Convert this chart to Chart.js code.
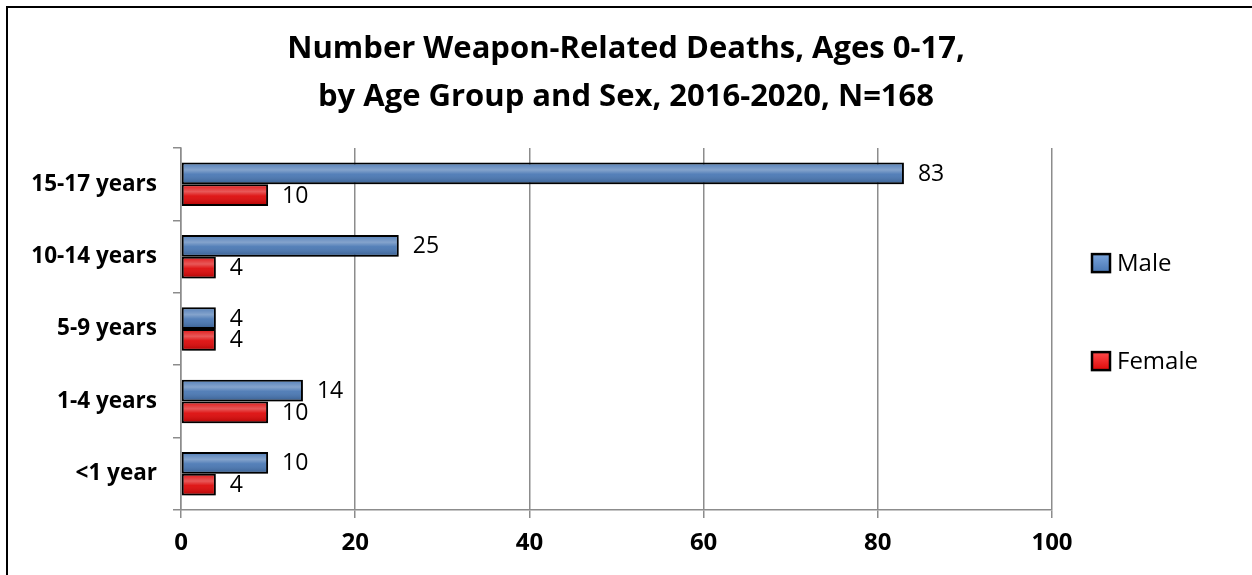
<!DOCTYPE html>
<html>
<head>
<meta charset="utf-8">
<title>Weapon-Related Deaths</title>
<script src="https://cdn.jsdelivr.net/npm/chart.js@4.4.1/dist/chart.umd.min.js"></script>
<style>
  html, body { margin: 0; padding: 0; background: #fff; overflow: hidden; }
  #wrap { position: relative; width: 1252px; height: 575px; }
  #frame {
    position: absolute; left: 6px; top: 6px; width: 1300px; height: 700px;
    border: 2px solid #000; box-sizing: border-box; pointer-events: none;
  }
</style>
</head>
<body>
<div id="wrap">
  <canvas id="myChart" width="1252" height="575"></canvas>
  <div id="frame"></div>
</div>
<script>
// data
var ageGroups = ["15-17 years", "10-14 years", "5-9 years", "1-4 years", "<1 year"];
var maleDeaths = [83, 25, 4, 14, 10];
var femaleDeaths = [10, 4, 4, 10, 4];
var xTickValues = [0, 20, 40, 60, 80, 100];
var seriesNames = ["Male", "Female"];
var titleLines = [
  "Number Weapon-Related Deaths, Ages 0-17,",
  "by Age Group and Sex, 2016-2020, N=168"
];

var FONT = "'Open Sans'";
var blue = "#4a78b4";
var red = "#dd0a0a";

// glossy overlay + shadow for the bars, then the value labels
var barLook = {
  id: "barLook",
  beforeDatasetsDraw: function (chart) {
    var ctx = chart.ctx;
    ctx.save();
    ctx.shadowColor = "rgba(0,0,0,0.35)";
    ctx.shadowBlur = 6;
    ctx.shadowOffsetX = 2;
    ctx.shadowOffsetY = 3;
  },
  afterDatasetsDraw: function (chart) {
    var ctx = chart.ctx;
    ctx.restore();
    chart.data.datasets.forEach(function (ds, i) {
      var meta = chart.getDatasetMeta(i);
      meta.data.forEach(function (bar) {
        var p = bar.getProps(["x", "y", "base", "height"], true);
        var top = p.y - p.height / 2 + 2;
        var h = p.height - 4;
        var left = Math.min(p.base, p.x) + 2;
        var w = Math.abs(p.x - p.base) - 4;
        if (w <= 0) return;
        var g = ctx.createLinearGradient(0, top, 0, top + h);
        g.addColorStop(0, "rgba(255,255,255,0.12)");
        g.addColorStop(0.3, "rgba(255,255,255,0.32)");
        g.addColorStop(0.55, "rgba(255,255,255,0.06)");
        g.addColorStop(1, "rgba(0,0,0,0.15)");
        ctx.fillStyle = g;
        ctx.fillRect(left, top, w, h);
      });
    });

    ctx.save();
    ctx.font = "500 23px " + FONT;
    ctx.fillStyle = "#000";
    ctx.textAlign = "left";
    ctx.textBaseline = "middle";
    chart.data.datasets.forEach(function (ds, i) {
      var meta = chart.getDatasetMeta(i);
      meta.data.forEach(function (bar, j) {
        var p = bar.getProps(["x", "y"], true);
        ctx.fillText(String(ds.data[j]), p.x + 14, p.y + 1);
      });
    });
    ctx.restore();
  }
};

// legend on the right, spaced like the original
var sideLegend = {
  id: "sideLegend",
  afterDraw: function (chart) {
    var ctx = chart.ctx;
    var area = chart.chartArea;
    ctx.save();
    chart.data.datasets.forEach(function (ds, i) {
      var x = area.right + 40;
      var y = area.top + 115 + i * 98;
      var g = ctx.createLinearGradient(0, y - 9, 0, y + 9);
      g.addColorStop(0, ds.lightColor);
      g.addColorStop(1, ds.backgroundColor);
      ctx.fillStyle = g;
      ctx.fillRect(x, y - 9, 18, 18);
      ctx.lineWidth = 2.5;
      ctx.strokeStyle = "#000";
      ctx.strokeRect(x, y - 9, 18, 18);
      ctx.font = "24px " + FONT;
      ctx.fillStyle = "#000";
      ctx.textAlign = "left";
      ctx.textBaseline = "middle";
      ctx.fillText(ds.label, x + 25, y + 1);
    });
    ctx.restore();
  }
};

var ctx = document.getElementById("myChart").getContext("2d");
var myChart = new Chart(ctx, {
  type: "bar",
  data: {
    labels: ageGroups,
    datasets: [
      {
        label: seriesNames[0],
        data: maleDeaths,
        backgroundColor: blue,
        lightColor: "#7aa4dc",
        borderColor: "#000",
        borderWidth: 2,
        borderSkipped: false,
      },
      {
        label: seriesNames[1],
        data: femaleDeaths,
        backgroundColor: red,
        lightColor: "#ff4a4a",
        borderColor: "#000",
        borderWidth: 2,
        borderSkipped: false,
      },
    ],
  },
  options: {
    indexAxis: "y",
    responsive: false,
    animation: false,
    devicePixelRatio: 1,
    categoryPercentage: 0.6,
    barPercentage: 1.0,
    plugins: {
      legend: { display: false },
      tooltip: { enabled: false },
      title: {
        display: true,
        text: titleLines,
        color: "#000",
        font: { family: FONT, size: 31, weight: "bold", lineHeight: 1.55 },
        padding: { top: 25, bottom: 27 },
      },
    },
    scales: {
      x: {
        min: 0,
        max: 100,
        afterBuildTicks: function (scale) {
          scale.ticks = xTickValues.map(function (v) { return { value: v }; });
        },
        afterFit: function (scale) { scale.height = 65; },
        grid: { color: "#8c8c8c", lineWidth: 1.5, tickLength: 8 },
        border: { color: "#8c8c8c", width: 1.5 },
        ticks: {
          color: "#000",
          padding: 11,
          font: { family: FONT, size: 24, weight: "bold" },
        },
      },
      y: {
        afterFit: function (scale) { scale.width = 181; },
        grid: { drawOnChartArea: false, color: "#8c8c8c", lineWidth: 1.5, tickLength: 8 },
        border: { color: "#8c8c8c", width: 1.5 },
        ticks: {
          color: "#000",
          padding: 16,
          font: { family: FONT, size: 22.5, weight: "bold" },
        },
      },
      // empty box on the right that keeps room for the legend
      yRight: {
        type: "category",
        position: "right",
        afterFit: function (scale) { scale.width = 200; },
        grid: { display: false },
        border: { display: false },
        ticks: { display: false },
      },
    },
  },
  plugins: [barLook, sideLegend],
});
</script>
</body>
</html>
